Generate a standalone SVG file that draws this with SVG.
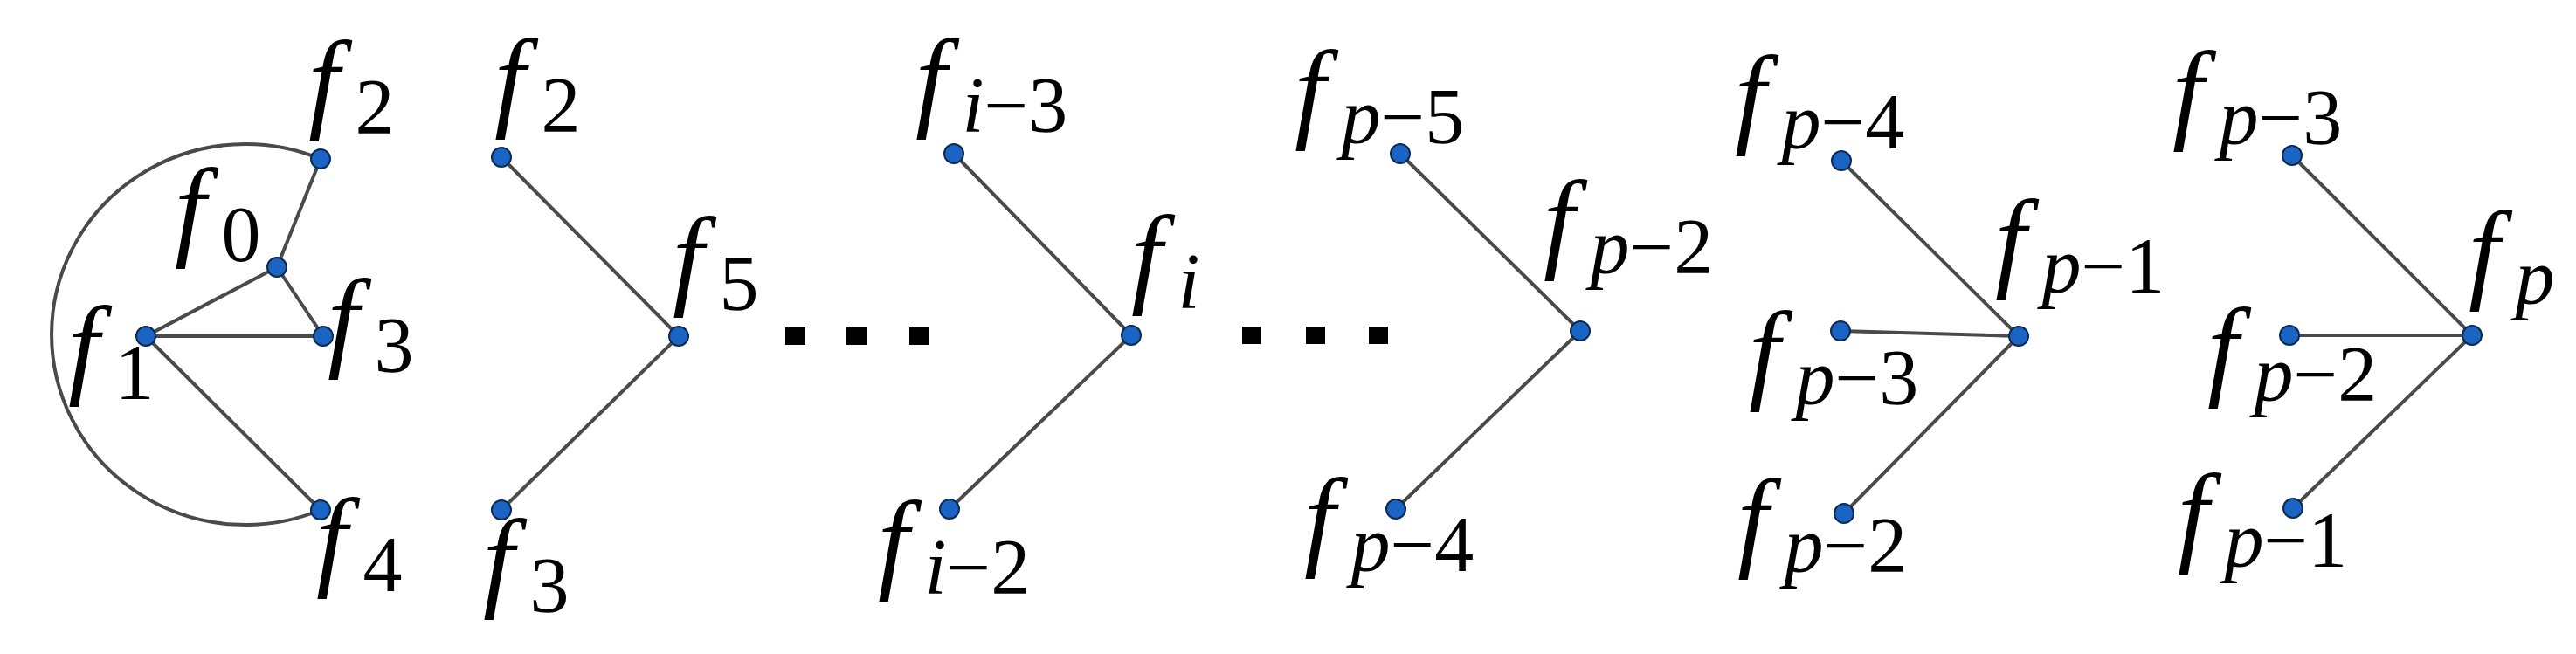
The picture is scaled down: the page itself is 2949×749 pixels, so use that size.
<svg xmlns="http://www.w3.org/2000/svg" width="2949" height="749" viewBox="0 0 2949 749">
<style>
.e{stroke:#4a4a4a;stroke-width:4;fill:none}
.n{fill:#1a64c4;stroke:#0d2a50;stroke-width:2}
.m{font-family:"Liberation Serif",serif;font-style:italic;font-size:128px;fill:#000}
.s{font-size:90px}
.u{font-style:normal}
</style>
<rect width="2949" height="749" fill="#fff"/>
<g id="connectors">
<path class="e" d="M367,182 A222,218 0 1 0 367,584"/>
<line class="e" x1="317" y1="306" x2="367" y2="182"/>
<line class="e" x1="317" y1="306" x2="370" y2="385"/>
<line class="e" x1="317" y1="306" x2="167" y2="385"/>
<line class="e" x1="167" y1="385" x2="370" y2="385"/>
<line class="e" x1="167" y1="385" x2="367" y2="584"/>
<line class="e" x1="574" y1="180" x2="777" y2="385"/>
<line class="e" x1="574" y1="584" x2="777" y2="385"/>
<line class="e" x1="1092" y1="176" x2="1295" y2="384"/>
<line class="e" x1="1087" y1="583" x2="1295" y2="384"/>
<line class="e" x1="1603" y1="176" x2="1809" y2="379"/>
<line class="e" x1="1598" y1="583" x2="1809" y2="379"/>
<line class="e" x1="2108" y1="184" x2="2311" y2="385"/>
<line class="e" x1="2107" y1="379" x2="2311" y2="385"/>
<line class="e" x1="2111" y1="588" x2="2311" y2="385"/>
<line class="e" x1="2624" y1="178" x2="2830" y2="384"/>
<line class="e" x1="2621" y1="384" x2="2830" y2="384"/>
<line class="e" x1="2625" y1="582" x2="2830" y2="384"/>
</g>
<g id="dots1"><rect x="899" y="375" width="23" height="20"/><rect x="969" y="375" width="23" height="20"/><rect x="1041" y="375" width="23" height="20"/></g>
<g id="dots2"><rect x="1422" y="374" width="22" height="20"/><rect x="1495" y="374" width="22" height="20"/><rect x="1567" y="374" width="22" height="20"/></g>
<g id="n_f0"><circle class="n" cx="317" cy="306" r="11"/><text class="m" x="200" y="281">f<tspan class="s u" dx="18" dy="18">0</tspan></text></g>
<g id="n_f1"><circle class="n" cx="167" cy="385" r="11"/><text class="m" x="78" y="439">f<tspan class="s u" dx="18" dy="18">1</tspan></text></g>
<g id="n_f2a"><circle class="n" cx="367" cy="182" r="11"/><text class="m" x="353" y="135">f<tspan class="s u" dx="18" dy="18">2</tspan></text></g>
<g id="n_f3a"><circle class="n" cx="370" cy="385" r="11"/><text class="m" x="375" y="408">f<tspan class="s u" dx="18" dy="18">3</tspan></text></g>
<g id="n_f4"><circle class="n" cx="367" cy="584" r="11"/><text class="m" x="362" y="659">f<tspan class="s u" dx="18" dy="18">4</tspan></text></g>
<g id="n_f2b"><circle class="n" cx="574" cy="180" r="11"/><text class="m" x="566" y="133">f<tspan class="s u" dx="18" dy="18">2</tspan></text></g>
<g id="n_f5"><circle class="n" cx="777" cy="385" r="11"/><text class="m" x="770" y="337">f<tspan class="s u" dx="18" dy="18">5</tspan></text></g>
<g id="n_f3b"><circle class="n" cx="574" cy="584" r="11"/><text class="m" x="553" y="683">f<tspan class="s u" dx="18" dy="18">3</tspan></text></g>
<g id="n_fi3"><circle class="n" cx="1092" cy="176" r="11"/><text class="m" x="1048" y="133">f<tspan class="s" dx="18" dy="18">i</tspan><tspan class="s u">−3</tspan></text></g>
<g id="n_fi"><circle class="n" cx="1295" cy="384" r="11"/><text class="m" x="1295" y="335">f<tspan class="s" dx="18" dy="18">i</tspan></text></g>
<g id="n_fi2"><circle class="n" cx="1087" cy="583" r="11"/><text class="m" x="1005" y="662">f<tspan class="s" dx="18" dy="18">i</tspan><tspan class="s u">−2</tspan></text></g>
<g id="n_fp5"><circle class="n" cx="1603" cy="176" r="11"/><text class="m" x="1482" y="146">f<tspan class="s" dx="18" dy="18">p</tspan><tspan class="s u">−5</tspan></text></g>
<g id="n_fp2a"><circle class="n" cx="1809" cy="379" r="11"/><text class="m" x="1767" y="295">f<tspan class="s" dx="18" dy="18">p</tspan><tspan class="s u">−2</tspan></text></g>
<g id="n_fp4a"><circle class="n" cx="1598" cy="583" r="11"/><text class="m" x="1493" y="636">f<tspan class="s" dx="18" dy="18">p</tspan><tspan class="s u">−4</tspan></text></g>
<g id="n_fp4b"><circle class="n" cx="2108" cy="184" r="11"/><text class="m" x="1986" y="152">f<tspan class="s" dx="18" dy="18">p</tspan><tspan class="s u">−4</tspan></text></g>
<g id="n_fp3a"><circle class="n" cx="2107" cy="379" r="11"/><text class="m" x="2002" y="445">f<tspan class="s" dx="18" dy="18">p</tspan><tspan class="s u">−3</tspan></text></g>
<g id="n_fp1a"><circle class="n" cx="2311" cy="385" r="11"/><text class="m" x="2284" y="317">f<tspan class="s" dx="18" dy="18">p</tspan><tspan class="s u">−1</tspan></text></g>
<g id="n_fp2b"><circle class="n" cx="2111" cy="588" r="11"/><text class="m" x="1989" y="637">f<tspan class="s" dx="18" dy="18">p</tspan><tspan class="s u">−2</tspan></text></g>
<g id="n_fp3b"><circle class="n" cx="2624" cy="178" r="11"/><text class="m" x="2487" y="147">f<tspan class="s" dx="18" dy="18">p</tspan><tspan class="s u">−3</tspan></text></g>
<g id="n_fp"><circle class="n" cx="2830" cy="384" r="11"/><text class="m" x="2826" y="330">f<tspan class="s" dx="18" dy="18">p</tspan></text></g>
<g id="n_fp2c"><circle class="n" cx="2621" cy="384" r="11"/><text class="m" x="2527" y="441">f<tspan class="s" dx="18" dy="18">p</tspan><tspan class="s u">−2</tspan></text></g>
<g id="n_fp1b"><circle class="n" cx="2625" cy="582" r="11"/><text class="m" x="2493" y="631">f<tspan class="s" dx="18" dy="18">p</tspan><tspan class="s u">−1</tspan></text></g>
</svg>
